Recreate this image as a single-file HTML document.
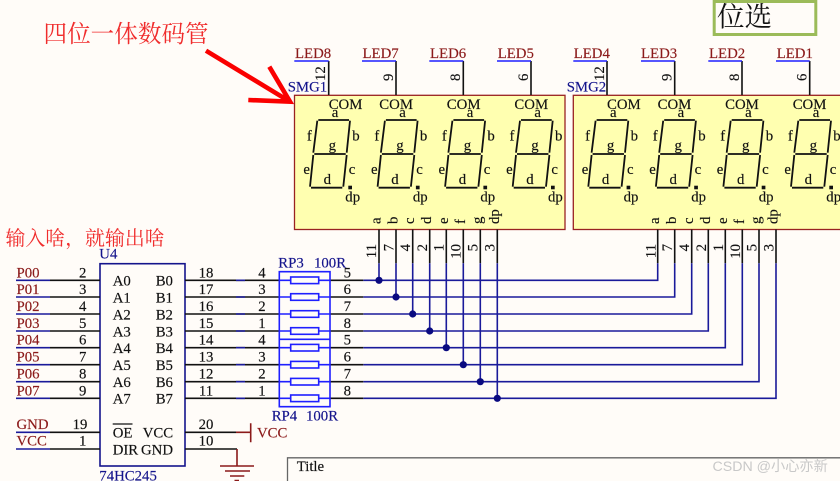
<!DOCTYPE html>
<html><head><meta charset="utf-8"><style>
html,body{margin:0;padding:0;background:#fffcf8}
svg{display:block}
text{font-family:"Liberation Serif","Noto Serif CJK SC",serif;font-size:14.8px;fill:#111;stroke:#111;stroke-width:.15}
.m{text-anchor:middle}
.e{text-anchor:end}
.r{fill:#8b1a1a;stroke:#8b1a1a}
.n{fill:#14148c;stroke:#14148c}
.k{stroke:#111;stroke-width:1.6;fill:none}
.b{stroke:#1a1a9a;stroke-width:1.6;fill:none}
.br{stroke:#1f1fff;stroke-width:1.6;fill:none}
.d{stroke:#8b1a1a;stroke-width:1.6;fill:none}
.s{stroke:#111;stroke-width:1.8;fill:none}
.c{stroke:none}
</style></head><body>
<svg width="840" height="481" viewBox="0 0 840 481" xmlns="http://www.w3.org/2000/svg">
<defs>
<g id="dg">
<path class="s" d="M318.3 120H349M317.3 120.7L313.3 152.7M350 120.7L346.7 152.7M314.3 154H345.7M313.3 155L310 186.7M346.7 155L343.3 186.7M311 187.7H342.3"/>
<rect x="348.3" y="185.7" width="3.7" height="3.6" fill="#111"/>
</g>
</defs>
<rect width="840" height="481" fill="#fffcf8"/>

<!-- annotations -->
<rect x="714.2" y="1.5" width="101.6" height="33" fill="none" stroke="#9bbb59" stroke-width="3"/>
<text class="c" x="717" y="26" style="font-size:27.5px;font-family:'Noto Serif CJK SC',serif" fill="#222">位选</text>
<text class="c" x="43.5" y="42" style="font-size:23.6px;fill:#f02c2c;font-family:'Noto Serif CJK SC',serif">四位一体数码管</text>
<text class="c" x="5.5" y="245" style="font-size:19.9px;fill:#f02c2c;font-family:'Noto Serif CJK SC',serif">输入啥，就输出啥</text>
<path d="M206 50.7L290 101.7M269.3 66.7L290 101.7L248.3 100" stroke="#fa0000" stroke-width="4.6" fill="none"/>

<!-- boxes -->
<rect x="294.5" y="95.3" width="270.5" height="134.2" fill="#ffffb0" stroke="#992222" stroke-width="1.3"/>
<rect x="573.3" y="95.3" width="290" height="134.2" fill="#ffffb0" stroke="#992222" stroke-width="1.3"/>

<!-- top pins -->
<path class="k" d="M328.7 61V95M396 61V95M463.3 61V95M531 61V95M607 61V95M674.7 61V95M742 61V95M809.7 61V95"/>
<path class="br" d="M294.3 61H328.7M362 61H396M429.3 61H463.3M497 61H531M573.3 61H607M641 61H674.7M708.3 61H742M776 61H809.7"/>
<text class="r" x="295" y="58">LED8</text><text class="r" x="362.5" y="58">LED7</text><text class="r" x="430" y="58">LED6</text><text class="r" x="497.7" y="58">LED5</text>
<text class="r" x="573.7" y="58">LED4</text><text class="r" x="641" y="58">LED3</text><text class="r" x="709" y="58">LED2</text><text class="r" x="776.7" y="58">LED1</text>
<text class="n" x="287.7" y="91.7">SMG1</text><text class="n" x="566.7" y="91.7">SMG2</text>
<text transform="translate(325,81) rotate(-90)">12</text><text transform="translate(393,81) rotate(-90)">9</text><text transform="translate(460,81) rotate(-90)">8</text><text transform="translate(528,81) rotate(-90)">6</text>
<text transform="translate(604,81) rotate(-90)">12</text><text transform="translate(671.7,81) rotate(-90)">9</text><text transform="translate(739,81) rotate(-90)">8</text><text transform="translate(806.7,81) rotate(-90)">6</text>

<!-- SMG1 digits -->
<g>
<use href="#dg"/><text x="328.7" y="109">COM</text><text class="m" x="335" y="117">a</text><text class="m" x="309.3" y="140.7">f</text><text class="m" x="356" y="140.7">b</text><text class="m" x="332.3" y="150">g</text><text class="m" x="306.7" y="174">e</text><text class="m" x="352" y="174">c</text><text class="m" x="327.3" y="184">d</text><text class="m" x="352.7" y="201.7">dp</text>
</g>
<g transform="translate(67.6,0)">
<use href="#dg"/><text x="311.7" y="109">COM</text><text class="m" x="335" y="117">a</text><text class="m" x="309.3" y="140.7">f</text><text class="m" x="356" y="140.7">b</text><text class="m" x="332.3" y="150">g</text><text class="m" x="306.7" y="174">e</text><text class="m" x="352" y="174">c</text><text class="m" x="327.3" y="184">d</text><text class="m" x="352.7" y="201.7">dp</text>
</g>
<g transform="translate(135.1,0)">
<use href="#dg"/><text x="311.7" y="109">COM</text><text class="m" x="335" y="117">a</text><text class="m" x="309.3" y="140.7">f</text><text class="m" x="356" y="140.7">b</text><text class="m" x="332.3" y="150">g</text><text class="m" x="306.7" y="174">e</text><text class="m" x="352" y="174">c</text><text class="m" x="327.3" y="184">d</text><text class="m" x="352.7" y="201.7">dp</text>
</g>
<g transform="translate(202.7,0)">
<use href="#dg"/><text x="311.7" y="109">COM</text><text class="m" x="335" y="117">a</text><text class="m" x="309.3" y="140.7">f</text><text class="m" x="356" y="140.7">b</text><text class="m" x="332.3" y="150">g</text><text class="m" x="306.7" y="174">e</text><text class="m" x="352" y="174">c</text><text class="m" x="327.3" y="184">d</text><text class="m" x="352.7" y="201.7">dp</text>
</g>
<!-- SMG2 digits -->
<g transform="translate(278.3,0)">
<use href="#dg"/><text x="328.7" y="109">COM</text><text class="m" x="335" y="117">a</text><text class="m" x="309.3" y="140.7">f</text><text class="m" x="356" y="140.7">b</text><text class="m" x="332.3" y="150">g</text><text class="m" x="306.7" y="174">e</text><text class="m" x="352" y="174">c</text><text class="m" x="327.3" y="184">d</text><text class="m" x="352.7" y="201.7">dp</text>
</g>
<g transform="translate(345.9,0)">
<use href="#dg"/><text x="311.7" y="109">COM</text><text class="m" x="335" y="117">a</text><text class="m" x="309.3" y="140.7">f</text><text class="m" x="356" y="140.7">b</text><text class="m" x="332.3" y="150">g</text><text class="m" x="306.7" y="174">e</text><text class="m" x="352" y="174">c</text><text class="m" x="327.3" y="184">d</text><text class="m" x="352.7" y="201.7">dp</text>
</g>
<g transform="translate(413.4,0)">
<use href="#dg"/><text x="311.7" y="109">COM</text><text class="m" x="335" y="117">a</text><text class="m" x="309.3" y="140.7">f</text><text class="m" x="356" y="140.7">b</text><text class="m" x="332.3" y="150">g</text><text class="m" x="306.7" y="174">e</text><text class="m" x="352" y="174">c</text><text class="m" x="327.3" y="184">d</text><text class="m" x="352.7" y="201.7">dp</text>
</g>
<g transform="translate(481,0)">
<use href="#dg"/><text x="311.7" y="109">COM</text><text class="m" x="335" y="117">a</text><text class="m" x="309.3" y="140.7">f</text><text class="m" x="356" y="140.7">b</text><text class="m" x="332.3" y="150">g</text><text class="m" x="306.7" y="174">e</text><text class="m" x="352" y="174">c</text><text class="m" x="327.3" y="184">d</text><text class="m" x="352.7" y="201.7">dp</text>
</g>

<!-- rotated segment names -->
<text transform="translate(380.5,224) rotate(-90)">a</text><text transform="translate(397.5,224) rotate(-90)">b</text><text transform="translate(414.2,224) rotate(-90)">c</text><text transform="translate(431.2,224) rotate(-90)">d</text><text transform="translate(447.8,224) rotate(-90)">e</text><text transform="translate(464.8,224) rotate(-90)">f</text><text transform="translate(481.8,224) rotate(-90)">g</text><text transform="translate(498.8,224) rotate(-90)">dp</text>
<text transform="translate(659.2,224) rotate(-90)">a</text><text transform="translate(676.2,224) rotate(-90)">b</text><text transform="translate(693.2,224) rotate(-90)">c</text><text transform="translate(709.8,224) rotate(-90)">d</text><text transform="translate(726.8,224) rotate(-90)">e</text><text transform="translate(743.8,224) rotate(-90)">f</text><text transform="translate(760.5,224) rotate(-90)">g</text><text transform="translate(777.5,224) rotate(-90)">dp</text>

<!-- bottom pins -->
<path class="k" d="M379 229.5V263.3M396 229.5V263.3M412.7 229.5V263.3M429.7 229.5V263.3M446.3 229.5V263.3M463.3 229.5V263.3M480.3 229.5V263.3M497.3 229.5V263.3M657.7 229.5V263.3M674.7 229.5V263.3M691.7 229.5V263.3M708.3 229.5V263.3M725.3 229.5V263.3M742.3 229.5V263.3M759 229.5V263.3M776 229.5V263.3"/>
<text class="e" transform="translate(376,244) rotate(-90)">11</text><text class="e" transform="translate(393.3,244) rotate(-90)">7</text><text class="e" transform="translate(410,244) rotate(-90)">4</text><text class="e" transform="translate(427,244) rotate(-90)">2</text><text class="e" transform="translate(443.6,244) rotate(-90)">1</text><text class="e" transform="translate(460.6,244) rotate(-90)">10</text><text class="e" transform="translate(477.6,244) rotate(-90)">5</text><text class="e" transform="translate(494.6,244) rotate(-90)">3</text>
<text class="e" transform="translate(655.5,244) rotate(-90)">11</text><text class="e" transform="translate(672.2,244) rotate(-90)">7</text><text class="e" transform="translate(689.2,244) rotate(-90)">4</text><text class="e" transform="translate(705.8,244) rotate(-90)">2</text><text class="e" transform="translate(722.8,244) rotate(-90)">1</text><text class="e" transform="translate(739.8,244) rotate(-90)">10</text><text class="e" transform="translate(756.5,244) rotate(-90)">5</text><text class="e" transform="translate(773.5,244) rotate(-90)">3</text>

<!-- nets -->
<path class="b" d="M363.3 280.3H657.7V263.3M363.3 297H674.7V263.3M363.3 314H691.7V263.3M363.3 331H708.3V263.3M363.3 347.7H725.3V263.3M363.3 364.7H742.3V263.3M363.3 381.7H759V263.3M363.3 398.3H776V263.3"/>
<path class="b" d="M379 263.3V280.3M396 263.3V297M412.7 263.3V314M429.7 263.3V331M446.3 263.3V347.7M463.3 263.3V364.7M480.3 263.3V381.7M497.3 263.3V398.3"/>
<g fill="#0a0a80"><circle cx="379" cy="280.3" r="3.6"/><circle cx="396" cy="297" r="3.6"/><circle cx="412.7" cy="314" r="3.6"/><circle cx="429.7" cy="331" r="3.6"/><circle cx="446.3" cy="347.7" r="3.6"/><circle cx="463.3" cy="364.7" r="3.6"/><circle cx="480.3" cy="381.7" r="3.6"/><circle cx="497.3" cy="398.3" r="3.6"/></g>

<!-- U4 left -->
<rect x="100" y="263.7" width="85" height="202.3" fill="none" stroke="#14148c" stroke-width="1.6"/>
<text class="n" x="99.3" y="258.3">U4</text><text class="n" x="99.3" y="480.5">74HC245</text>
<path class="k" d="M50 280.3H100M50 297H100M50 314H100M50 331H100M50 347.7H100M50 364.7H100M50 381.7H100M50 398.3H100M50 432.3H100M50 449H100"/>
<path class="b" d="M16 280.3H50M16 297H50M16 314H50M16 331H50M16 347.7H50M16 364.7H50M16 381.7H50M16 398.3H50M16 432.3H50M16 449H50"/>
<text class="r" x="16.5" y="277.3">P00</text><text class="r" x="16.5" y="294">P01</text><text class="r" x="16.5" y="311">P02</text><text class="r" x="16.5" y="328">P03</text><text class="r" x="16.5" y="344.7">P04</text><text class="r" x="16.5" y="361.7">P05</text><text class="r" x="16.5" y="378.7">P06</text><text class="r" x="16.5" y="395.3">P07</text>
<text class="r" x="16.5" y="429">GND</text><text class="r" x="16.5" y="445.7">VCC</text>
<text class="m" x="82.7" y="277.3">2</text><text class="m" x="82.7" y="294">3</text><text class="m" x="82.7" y="311">4</text><text class="m" x="82.7" y="328">5</text><text class="m" x="82.7" y="344.7">6</text><text class="m" x="82.7" y="361.7">7</text><text class="m" x="82.7" y="378.7">8</text><text class="m" x="82.7" y="395.3">9</text>
<text class="m" x="80" y="429">19</text><text class="m" x="82.7" y="445.7">1</text>
<text x="112.7" y="285.7">A0</text><text x="112.7" y="302.4">A1</text><text x="112.7" y="319.4">A2</text><text x="112.7" y="336.4">A3</text><text x="112.7" y="353.1">A4</text><text x="112.7" y="370.1">A5</text><text x="112.7" y="387.1">A6</text><text x="112.7" y="403.7">A7</text>
<text x="155.7" y="285.7">B0</text><text x="155.7" y="302.4">B1</text><text x="155.7" y="319.4">B2</text><text x="155.7" y="336.4">B3</text><text x="155.7" y="353.1">B4</text><text x="155.7" y="370.1">B5</text><text x="155.7" y="387.1">B6</text><text x="155.7" y="403.7">B7</text>
<text x="112.7" y="437.3">OE</text><path d="M112.7 424H132.5" stroke="#111" stroke-width="1.3"/>
<text x="112.7" y="454.3">DIR</text><text x="142.7" y="437.3">VCC</text><text x="141" y="454.3">GND</text>

<!-- U4 right -->
<path class="k" d="M185 280.3H279.3M185 297H279.3M185 314H279.3M185 331H279.3M185 347.7H279.3M185 364.7H279.3M185 381.7H279.3M185 398.3H279.3M185 432.3H236M185 449H237"/>
<path class="b" d="M236 280.3H245M236 297H245M236 314H245M236 331H245M236 347.7H245M236 364.7H245M236 381.7H245M236 398.3H245"/>
<text class="m" x="206" y="277.3">18</text><text class="m" x="206" y="294">17</text><text class="m" x="206" y="311">16</text><text class="m" x="206" y="328">15</text><text class="m" x="206" y="344.7">14</text><text class="m" x="206" y="361.7">13</text><text class="m" x="206" y="378.7">12</text><text class="m" x="206" y="395.3">11</text>
<text class="m" x="206" y="429">20</text><text class="m" x="206" y="445.7">10</text>
<text class="m" x="262" y="277.3">4</text><text class="m" x="262" y="294">3</text><text class="m" x="262" y="311">2</text><text class="m" x="262" y="328">1</text><text class="m" x="262" y="344.7">4</text><text class="m" x="262" y="361.7">3</text><text class="m" x="262" y="378.7">2</text><text class="m" x="262" y="395.3">1</text>
<path class="d" d="M236 432.3H250.7M250.7 423.3V442.3M237 449V465.7M220 466H254M225 471H250M230 476H244.3M234.5 480.5H239"/>
<text class="r" x="257" y="437.3">VCC</text>

<!-- resistor networks -->
<path class="k" d="M330 280.3H363.3M330 297H363.3M330 314H363.3M330 331H363.3M330 347.7H363.3M330 364.7H363.3M330 381.7H363.3M330 398.3H363.3"/>
<path class="br" d="M279.3 271.7H330V339.3H279.3ZM279.3 339.3H330V406.7H279.3Z"/>
<path class="br" d="M279.3 280.3H290.7M318.7 280.3H330M279.3 297H290.7M318.7 297H330M279.3 314H290.7M318.7 314H330M279.3 331H290.7M318.7 331H330M279.3 347.7H290.7M318.7 347.7H330M279.3 364.7H290.7M318.7 364.7H330M279.3 381.7H290.7M318.7 381.7H330M279.3 398.3H290.7M318.7 398.3H330"/>
<rect class="br" x="290.7" y="277" width="28" height="6.6"/><rect class="br" x="290.7" y="293.7" width="28" height="6.6"/><rect class="br" x="290.7" y="310.7" width="28" height="6.6"/><rect class="br" x="290.7" y="327.7" width="28" height="6.6"/><rect class="br" x="290.7" y="344.4" width="28" height="6.6"/><rect class="br" x="290.7" y="361.4" width="28" height="6.6"/><rect class="br" x="290.7" y="378.4" width="28" height="6.6"/><rect class="br" x="290.7" y="395" width="28" height="6.6"/>
<text class="n" x="278.3" y="267.3">RP3</text><text class="n" x="314" y="267.3">100R</text><text class="n" x="271.7" y="420.7">RP4</text><text class="n" x="306" y="420.7">100R</text>
<text class="m" x="347.3" y="277.7">5</text><text class="m" x="347.3" y="294">6</text><text class="m" x="347.3" y="311">7</text><text class="m" x="347.3" y="328">8</text><text class="m" x="347.3" y="344.7">5</text><text class="m" x="347.3" y="361.7">6</text><text class="m" x="347.3" y="378.7">7</text><text class="m" x="347.3" y="395.3">8</text>

<!-- title block -->
<path d="M287.5 481V457.8H840" fill="none" stroke="#666" stroke-width="1.3"/>
<text x="296.7" y="471">Title</text>
<text class="c" x="712.5" y="471" style="font-family:'Liberation Sans','Noto Sans CJK SC',sans-serif;font-size:14.2px;fill:#c8c8c8">CSDN @小心亦新</text>
</svg>
</body></html>
